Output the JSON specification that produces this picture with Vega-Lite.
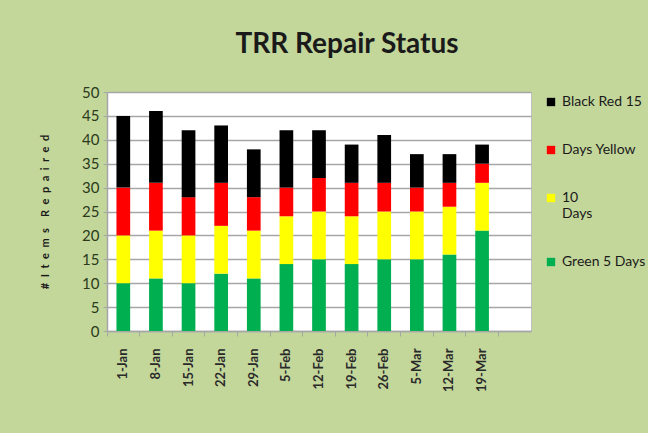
{
  "$schema": "https://vega.github.io/schema/vega-lite/v6.json",
  "autosize": {"type": "none"},
  "width": 424,
  "height": 239,
  "padding": {"left": 107, "top": 92, "right": 117, "bottom": 102},
  "background": "#c4d79b",
  "title": {
    "text": "TRR Repair Status",
    "font": "Lato",
    "fontSize": 28,
    "fontWeight": "bold",
    "color": "#1a1a1a",
    "anchor": "middle",
    "dx": 28,
    "offset": 26
  },
  "config": {
    "view": {"fill": "white", "stroke": "#bfbfbf"},
    "font": "Lato"
  },
  "data": {
    "values": [
      {"date": "1-Jan", "status": "Green", "value": 10, "o": 1},
      {"date": "1-Jan", "status": "Yellow", "value": 10, "o": 2},
      {"date": "1-Jan", "status": "Red", "value": 10, "o": 3},
      {"date": "1-Jan", "status": "Black", "value": 15, "o": 4},
      {"date": "8-Jan", "status": "Green", "value": 11, "o": 1},
      {"date": "8-Jan", "status": "Yellow", "value": 10, "o": 2},
      {"date": "8-Jan", "status": "Red", "value": 10, "o": 3},
      {"date": "8-Jan", "status": "Black", "value": 15, "o": 4},
      {"date": "15-Jan", "status": "Green", "value": 10, "o": 1},
      {"date": "15-Jan", "status": "Yellow", "value": 10, "o": 2},
      {"date": "15-Jan", "status": "Red", "value": 8, "o": 3},
      {"date": "15-Jan", "status": "Black", "value": 14, "o": 4},
      {"date": "22-Jan", "status": "Green", "value": 12, "o": 1},
      {"date": "22-Jan", "status": "Yellow", "value": 10, "o": 2},
      {"date": "22-Jan", "status": "Red", "value": 9, "o": 3},
      {"date": "22-Jan", "status": "Black", "value": 12, "o": 4},
      {"date": "29-Jan", "status": "Green", "value": 11, "o": 1},
      {"date": "29-Jan", "status": "Yellow", "value": 10, "o": 2},
      {"date": "29-Jan", "status": "Red", "value": 7, "o": 3},
      {"date": "29-Jan", "status": "Black", "value": 10, "o": 4},
      {"date": "5-Feb", "status": "Green", "value": 14, "o": 1},
      {"date": "5-Feb", "status": "Yellow", "value": 10, "o": 2},
      {"date": "5-Feb", "status": "Red", "value": 6, "o": 3},
      {"date": "5-Feb", "status": "Black", "value": 12, "o": 4},
      {"date": "12-Feb", "status": "Green", "value": 15, "o": 1},
      {"date": "12-Feb", "status": "Yellow", "value": 10, "o": 2},
      {"date": "12-Feb", "status": "Red", "value": 7, "o": 3},
      {"date": "12-Feb", "status": "Black", "value": 10, "o": 4},
      {"date": "19-Feb", "status": "Green", "value": 14, "o": 1},
      {"date": "19-Feb", "status": "Yellow", "value": 10, "o": 2},
      {"date": "19-Feb", "status": "Red", "value": 7, "o": 3},
      {"date": "19-Feb", "status": "Black", "value": 8, "o": 4},
      {"date": "26-Feb", "status": "Green", "value": 15, "o": 1},
      {"date": "26-Feb", "status": "Yellow", "value": 10, "o": 2},
      {"date": "26-Feb", "status": "Red", "value": 6, "o": 3},
      {"date": "26-Feb", "status": "Black", "value": 10, "o": 4},
      {"date": "5-Mar", "status": "Green", "value": 15, "o": 1},
      {"date": "5-Mar", "status": "Yellow", "value": 10, "o": 2},
      {"date": "5-Mar", "status": "Red", "value": 5, "o": 3},
      {"date": "5-Mar", "status": "Black", "value": 7, "o": 4},
      {"date": "12-Mar", "status": "Green", "value": 16, "o": 1},
      {"date": "12-Mar", "status": "Yellow", "value": 10, "o": 2},
      {"date": "12-Mar", "status": "Red", "value": 5, "o": 3},
      {"date": "12-Mar", "status": "Black", "value": 6, "o": 4},
      {"date": "19-Mar", "status": "Green", "value": 21, "o": 1},
      {"date": "19-Mar", "status": "Yellow", "value": 10, "o": 2},
      {"date": "19-Mar", "status": "Red", "value": 4, "o": 3},
      {"date": "19-Mar", "status": "Black", "value": 4, "o": 4}
    ]
  },
  "mark": {"type": "bar"},
  "encoding": {
    "x": {
      "field": "date",
      "type": "nominal",
      "sort": null,
      "scale": {
        "domain": ["1-Jan", "8-Jan", "15-Jan", "22-Jan", "29-Jan", "5-Feb", "12-Feb", "19-Feb", "26-Feb", "5-Mar", "12-Mar", "19-Mar", " "],
        "paddingInner": 0.58,
        "paddingOuter": 0.29
      },
      "axis": {
        "title": null,
        "labelAngle": -90,
        "labelFontSize": 13,
        "labelFontWeight": "bold",
        "labelColor": "#2a2a2a",
        "labelPadding": 12,
        "domainColor": "#a6a6a6",
        "domainWidth": 1.5,
        "tickColor": "#a6a6a6",
        "tickSize": 5,
        "bandPosition": -0.69,
        "grid": false
      }
    },
    "y": {
      "field": "value",
      "type": "quantitative",
      "stack": "zero",
      "scale": {"domain": [0, 50], "nice": false},
      "axis": {
        "title": "#\u2002I\u2002t\u2002e\u2002m\u2002s\u2002\u2002R\u2002e\u2002p\u2002a\u2002i\u2002r\u2002e\u2002d",
        "titleFontSize": 11,
        "titleFontWeight": "bold",
        "titleColor": "#1a1a1a",
        "titlePadding": 31,
        "values": [0, 5, 10, 15, 20, 25, 30, 35, 40, 45, 50],
        "labelFontSize": 15,
        "labelColor": "#2a3a1a",
        "labelPadding": 4,
        "domainColor": "#a6a6a6",
        "domainWidth": 1.5,
        "tickColor": "#a6a6a6",
        "tickSize": 4,
        "gridColor": "#a6a6a6",
        "gridWidth": 1.5
      }
    },
    "color": {
      "field": "status",
      "type": "nominal",
      "scale": {
        "domain": ["Black", "Red", "Yellow", "Green"],
        "range": ["#000000", "#ff0000", "#ffff00", "#00b050"]
      },
      "legend": {
        "title": null,
        "orient": "none",
        "legendX": 437,
        "legendY": 3,
        "symbolType": "square",
        "symbolSize": 70,
        "symbolStrokeWidth": 0,
        "labelFontSize": 14,
        "labelColor": "#1a1a1a",
        "rowPadding": 34,
        "labelLimit": 200,
        "labelExpr": "datum.label == 'Black' ? 'Black  Red 15' : datum.label == 'Red' ? 'Days Yellow' : datum.label == 'Yellow' ? ['10', 'Days'] : 'Green 5 Days'"
      }
    },
    "order": {"field": "o", "type": "quantitative"}
  }
}
